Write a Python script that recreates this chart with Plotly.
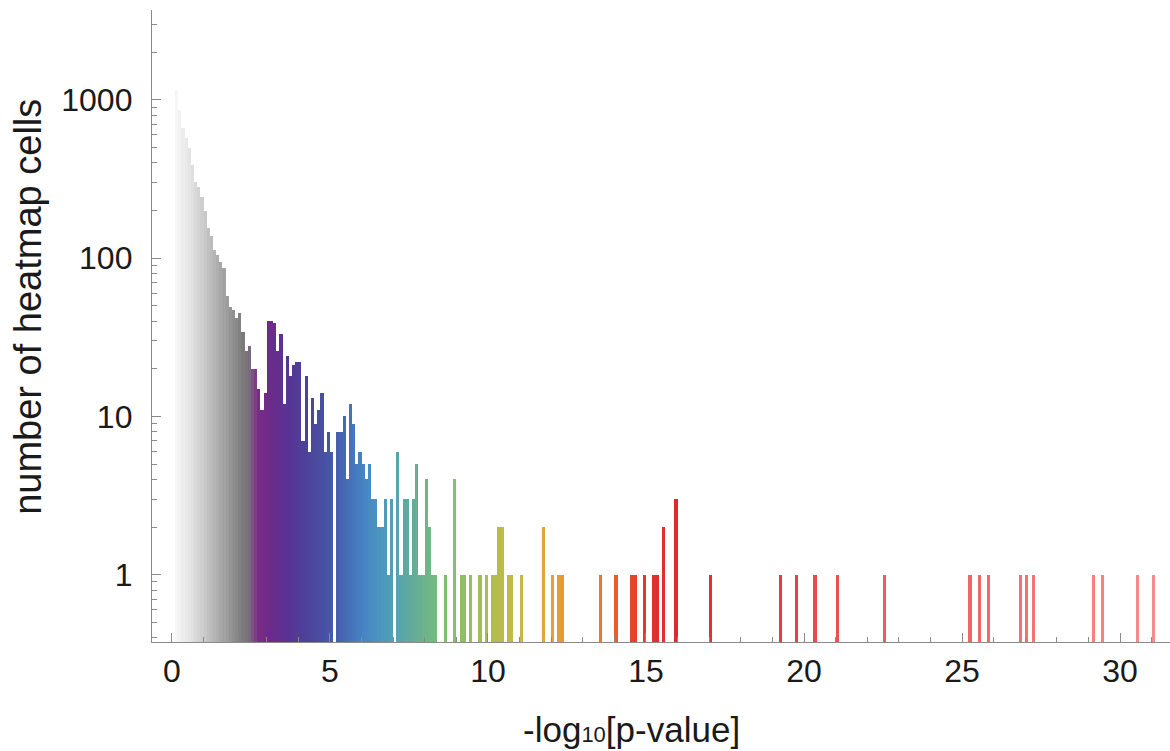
import plotly.graph_objects as go

# ---------------- data ----------------
# histogram of -log10[p-value], bin width 0.1
bin_width = 0.1
# dense region: consecutive bins starting at 0.1
dense_start = 0.1
dense_counts = [
    1150, 860, 668, 572, 495, 388, 303, 283, 242, 197,
    154, 138, 113, 105, 95, 87, 58, 49, 47, 42,
    45, 34, 26, 28, 20, 20, 15, 11, 14, 40,
    40, 39, 26, 33, 12, 24, 18, 21, 22, 22,
    7, 18, 6, 13, 9, 11, 14, 6, 8, 6,
    0, 8, 8, 10, 4, 12, 9, 5, 6, 5,
    4, 5, 3, 3, 2, 2, 3, 1, 3, 0,
    6, 1, 3, 3, 1, 3, 5, 1, 1, 4,
    2, 1, 1, 0, 0, 1, 0, 0, 4, 0,
    1, 1, 0, 1, 0, 0, 1, 0, 1, 0,
    1, 1, 2, 2, 0, 1, 1, 0, 0, 1,
    0, 0, 0, 0, 0, 0, 2, 0, 0, 1,
    0, 1, 1,
]
# sparse tail: left edge of bin and count
tail_bins = [13.5, 14.0, 14.5, 14.6, 14.9, 15.2, 15.3, 15.5, 15.9, 17.0,
             19.2, 19.7, 20.3, 21.0, 22.5, 25.2, 25.5, 25.8, 26.8, 27.0,
             27.2, 29.1, 29.4, 30.5, 31.0]
tail_counts = [1, 1, 1, 1, 1, 1, 1, 2, 3, 1,
               1, 1, 1, 1, 1, 1, 1, 1, 1, 1,
               1, 1, 1, 1, 1]

x_tick_vals = [0, 5, 10, 15, 20, 25, 30]
y_tick_vals = [1, 10, 100, 1000]
y_tick_text = ["1", "10", "100", "1000"]

# colour gradient (position on x axis -> colour)
color_stops = [
    (0.0, "#ffffff"), (0.15, "#f6f6f6"), (0.6, "#e2e2e2"), (1.0, "#cbcbcb"),
    (1.5, "#ababab"), (2.0, "#8c8c8c"), (2.25, "#7b7b7b"), (2.45, "#7a6a7e"),
    (2.75, "#7a2b86"), (3.1, "#6c2a8a"), (3.6, "#5a3292"), (4.1, "#4e3e99"),
    (4.6, "#4a4b9f"), (5.1, "#4559a9"), (5.6, "#4670b8"), (6.1, "#4686c4"),
    (6.6, "#4b96bf"), (7.1, "#55a3ae"), (7.6, "#62ac9a"), (8.1, "#6fb587"),
    (8.6, "#7ebd70"), (9.1, "#8dbe65"), (9.6, "#9cbf5d"), (10.1, "#aebd52"),
    (10.6, "#bfbb48"), (11.1, "#cdb540"), (11.7, "#dca93a"), (12.2, "#e39f35"),
    (13.5, "#ee7a30"), (14.0, "#e9602c"), (14.6, "#e4432e"), (15.2, "#e03030"),
    (16.0, "#e0292b"), (17.0, "#e33035"), (19.2, "#e83a3f"), (20.3, "#ec4649"),
    (21.0, "#ee4e51"), (22.5, "#f05a5c"), (25.3, "#f36565"), (27.0, "#f47272"),
    (29.2, "#f67f7f"), (31.0, "#f78c8c"),
]


def hex_to_rgb(h):
    h = h.lstrip("#")
    return tuple(int(h[i:i + 2], 16) for i in (0, 2, 4))


def color_at(v):
    if v <= color_stops[0][0]:
        return color_stops[0][1]
    for (p0, c0), (p1, c1) in zip(color_stops[:-1], color_stops[1:]):
        if p0 <= v <= p1:
            t = (v - p0) / (p1 - p0)
            a, b = hex_to_rgb(c0), hex_to_rgb(c1)
            r = [round(a[i] + (b[i] - a[i]) * t) for i in range(3)]
            return "rgb(%d,%d,%d)" % tuple(r)
    return color_stops[-1][1]


lefts = [round(dense_start + bin_width * i, 1) for i in range(len(dense_counts))] + tail_bins
counts = dense_counts + tail_counts
xs, ys, cols = [], [], []
for l, c in zip(lefts, counts):
    if c > 0:
        centre = l + bin_width / 2
        xs.append(centre)
        ys.append(c)
        cols.append(color_at(centre))

fig = go.Figure(go.Bar(
    x=xs, y=ys, width=bin_width,
    marker=dict(color=cols, line=dict(width=0)),
    hoverinfo="x+y",
))

FONT = "Liberation Sans, Arial, sans-serif"
AX = "#8a8a8a"

fig.update_layout(
    width=1170, height=751,
    margin=dict(l=152, r=0, t=10, b=109),
    paper_bgcolor="white", plot_bgcolor="white",
    showlegend=False, bargap=0,
    font=dict(family=FONT, size=32, color="#1a1a1a"),
    xaxis=dict(
        range=[-0.63, 31.58], tickvals=x_tick_vals,
        ticks="inside", ticklen=9, tickwidth=1, tickcolor=AX,
        showline=True, linecolor=AX, linewidth=1.3,
        showgrid=False, zeroline=False,
        tickfont=dict(family=FONT, size=32, color="#1a1a1a"),
        minor=dict(ticks="inside", ticklen=5, tickwidth=1, tickcolor=AX, dtick=1, showgrid=False),
    ),
    yaxis=dict(
        type="log", range=[-0.425, 3.567],
        tickvals=y_tick_vals, ticktext=y_tick_text,
        ticks="inside", ticklen=9, tickwidth=1, tickcolor=AX,
        showline=True, linecolor=AX, linewidth=1.3,
        showgrid=False, zeroline=False,
        ticklabelstandoff=12,
        tickfont=dict(family=FONT, size=32, color="#1a1a1a"),
        minor=dict(ticks="inside", ticklen=5, tickwidth=1, tickcolor=AX, dtick="D1", showgrid=False),
    ),
    annotations=[
        dict(text="-log<span style='font-size:22px'>10</span>[p-value]", xref="paper", yref="paper",
             x=0.4715, y=-0.139, xanchor="center", yanchor="middle", showarrow=False,
             font=dict(family=FONT, size=35, color="#1a1a1a")),
        dict(text="number of heatmap cells", xref="paper", yref="paper",
             x=-0.122, y=0.53, xanchor="center", yanchor="middle", textangle=-90,
             showarrow=False, font=dict(family=FONT, size=38, color="#1a1a1a")),
    ],
)

fig.write_html("out.html")
